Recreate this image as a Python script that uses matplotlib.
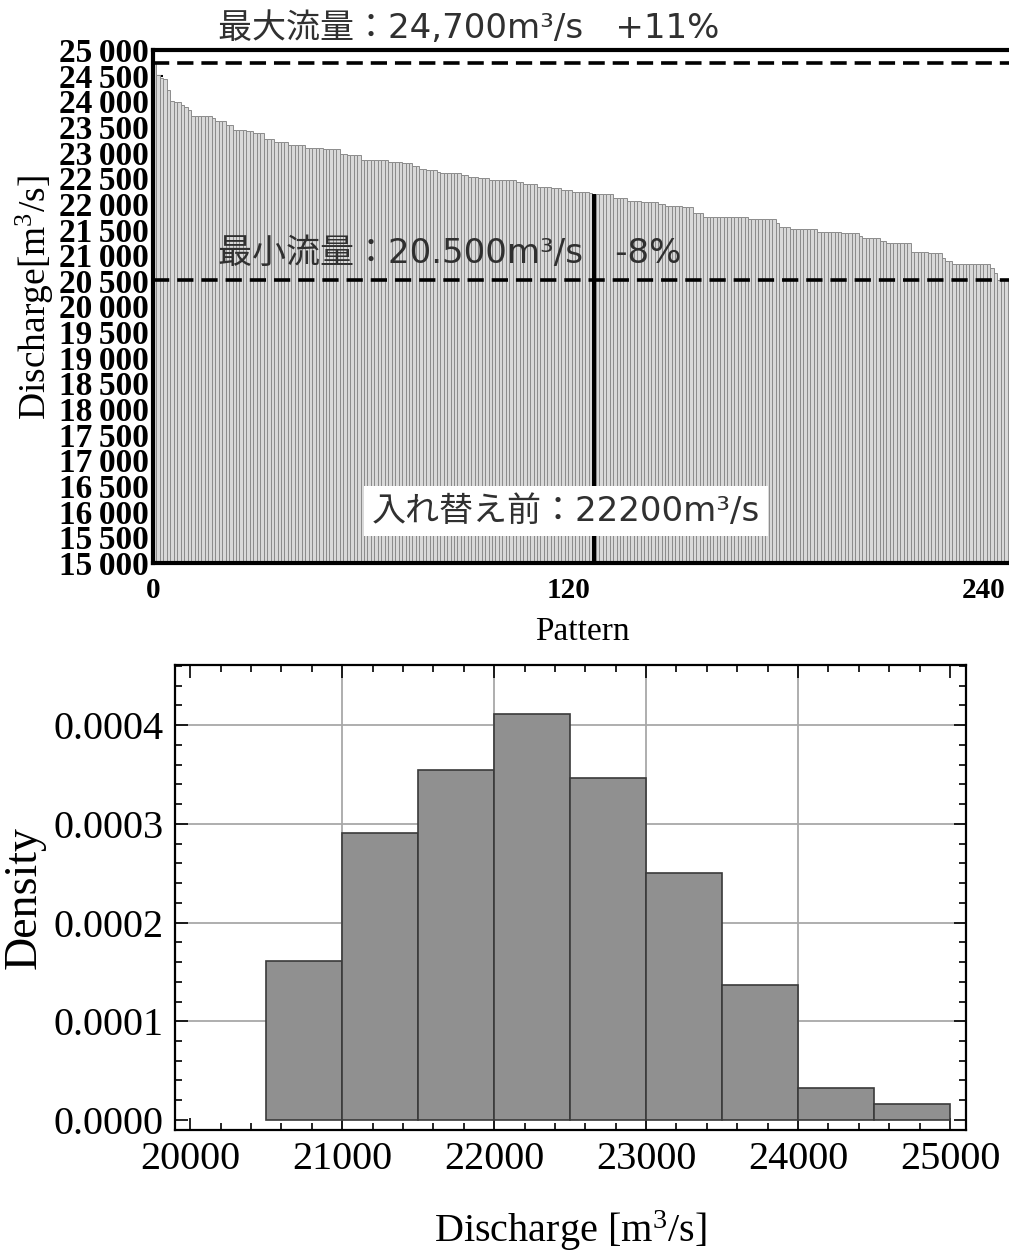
import numpy as np
import matplotlib
matplotlib.use("Agg")
import matplotlib.pyplot as plt
from matplotlib.ticker import MultipleLocator, FuncFormatter

plt.rcParams['mathtext.fontset'] = 'custom'
plt.rcParams['mathtext.rm'] = 'Liberation Serif'
plt.rcParams['mathtext.it'] = 'Liberation Serif:italic'
plt.rcParams['mathtext.bf'] = 'Liberation Serif:bold'

# ---- data ----
discharge = [
    24750, 24520, 24460, 24440, 24220, 24010, 23985, 23980, 23920, 23890,
    23830, 23715, 23715, 23715, 23715, 23715, 23715, 23670, 23620, 23620,
    23620, 23540, 23540, 23440, 23440, 23440, 23440, 23420, 23420, 23375,
    23375, 23375, 23260, 23260, 23260, 23215, 23215, 23215, 23215, 23150,
    23150, 23150, 23150, 23150, 23095, 23095, 23095, 23095, 23095, 23065,
    23065, 23065, 23065, 23065, 22975, 22975, 22950, 22950, 22950, 22950,
    22860, 22860, 22860, 22860, 22860, 22860, 22860, 22860, 22825, 22825,
    22825, 22825, 22790, 22790, 22790, 22740, 22740, 22690, 22690, 22660,
    22660, 22660, 22630, 22610, 22610, 22610, 22610, 22610, 22610, 22560,
    22560, 22530, 22530, 22530, 22505, 22505, 22505, 22465, 22465, 22465,
    22465, 22465, 22465, 22465, 22465, 22420, 22420, 22380, 22380, 22380,
    22380, 22335, 22335, 22335, 22335, 22305, 22305, 22305, 22270, 22270,
    22270, 22240, 22240, 22240, 22240, 22240, 22220, 22200, 22190, 22190,
    22190, 22190, 22190, 22110, 22110, 22110, 22110, 22065, 22065, 22065,
    22065, 22030, 22030, 22030, 22030, 22030, 22005, 22005, 21960, 21960,
    21960, 21960, 21960, 21935, 21935, 21935, 21815, 21815, 21815, 21750,
    21750, 21750, 21750, 21750, 21750, 21750, 21750, 21750, 21750, 21750,
    21750, 21750, 21700, 21700, 21700, 21700, 21700, 21700, 21700, 21700,
    21620, 21555, 21555, 21555, 21510, 21510, 21510, 21510, 21510, 21510,
    21510, 21510, 21460, 21460, 21460, 21460, 21460, 21460, 21460, 21440,
    21440, 21440, 21440, 21440, 21380, 21330, 21330, 21330, 21330, 21330,
    21280, 21280, 21230, 21230, 21230, 21230, 21230, 21230, 21230, 21070,
    21070, 21070, 21070, 21070, 21040, 21040, 21040, 21040, 20940, 20895,
    20895, 20825, 20825, 20825, 20825, 20825, 20825, 20825, 20825, 20825,
    20825, 20825, 20745, 20645, 20520, 20520, 20520, 20520,
]
highlight_pattern = 128          # pattern marked before swapping (22200 m3/s)
y_ticks_top = list(range(15000, 25001, 500))
x_ticks_top = [0, 120, 240]
hist_bins = list(range(20500, 25001, 500))
hist_xticks = [20000, 21000, 22000, 23000, 24000, 25000]
hist_yticks = [0.0000, 0.0001, 0.0002, 0.0003, 0.0004]
grid_x = [21000, 22000, 23000, 24000]
grid_y = [0.0001, 0.0002, 0.0003, 0.0004]

label_max = "最大流量：24,700m³/s   +11%"
label_min = "最小流量：20.500m³/s   -8%"
label_before = "入れ替え前：22200m³/s"

values = np.array(discharge, dtype=float)
patterns = np.arange(1, len(values) + 1)

W, H = 1009, 1254
fig = plt.figure(figsize=(W / 100, H / 100), dpi=100)

serif = 'Liberation Serif'
jp = ['DejaVu Sans', 'Noto Sans CJK JP']

# ---------------- top chart ----------------
ax1 = fig.add_axes([153 / W, 1 - 563 / H, (1012 - 153) / W, 513 / H])
colors = ['black' if p == highlight_pattern else '#d9d9d9' for p in patterns]
edges = ['black' if p == highlight_pattern else '#8c8c8c' for p in patterns]
ax1.bar(patterns - 0.5, values, width=1.0, color=colors, edgecolor=edges,
        linewidth=0.7, zorder=2)
ax1.set_xlim(0, 248.3)
ax1.set_ylim(15000, 25000)
ax1.axhline(values.max(), color='black', lw=2.6, ls=(0, (4.5, 2.2)), zorder=4)
ax1.axhline(values.min(), color='black', lw=2.6, ls=(0, (4.5, 2.2)), zorder=4)

for s in ['top', 'left', 'bottom']:
    ax1.spines[s].set_linewidth(3)
    ax1.spines[s].set_color('black')
    ax1.spines[s].set_zorder(5)
ax1.spines['right'].set_visible(False)

ax1.set_yticks(y_ticks_top)
ax1.yaxis.set_major_formatter(FuncFormatter(
    lambda v, p: f"{int(v) // 1000}\u2009{int(v) % 1000:03d}"))
ax1.set_xticks(x_ticks_top)
ax1.xaxis.set_minor_locator(MultipleLocator(12))
ax1.tick_params(axis='y', direction='in', length=7, width=1.5, pad=3,
                labelsize=24)
ax1.tick_params(axis='x', which='both', direction='in', length=5, width=1.5,
                pad=10, labelsize=21)
for lab in ax1.get_yticklabels() + ax1.get_xticklabels():
    lab.set_fontfamily(serif)
    lab.set_fontweight('bold')

ax1.set_ylabel("Discharge[m$^3$/s]", fontfamily=serif, fontsize=27)
ax1.yaxis.set_label_coords(-0.113, 0.518)
ax1.set_xlabel("Pattern", fontfamily=serif, fontsize=24, labelpad=9)

txt_kw = dict(family=jp, fontsize=24.5, color='#303030', va='center', zorder=10)
fig.text(218 / W, 1 - 28 / H, label_max, ha='left', **txt_kw)
fig.text(218 / W, 1 - 253 / H, label_min, ha='left', **txt_kw)
fig.text(566 / W, 1 - 511 / H, label_before, ha='center',
         bbox=dict(facecolor='white', edgecolor='none', pad=6), **txt_kw)

# ---------------- histogram ----------------
ax2 = fig.add_axes([175 / W, 1 - 1130 / H, 791 / W, 465 / H])
for g in grid_x:
    ax2.axvline(g, color='#a8a8a8', lw=1.3, zorder=0.5)
for g in grid_y:
    ax2.axhline(g, color='#a8a8a8', lw=1.3, zorder=0.5)
ax2.hist(values, bins=hist_bins, density=True, color='#909090',
         edgecolor='#3a3a3a', linewidth=1.2, zorder=2)
ax2.set_xlim(19900, 25105)
ax2.set_ylim(-0.0000102, 0.000461)
ax2.set_xticks(hist_xticks)
ax2.set_yticks(hist_yticks)
ax2.xaxis.set_minor_locator(MultipleLocator(200))
ax2.yaxis.set_minor_locator(MultipleLocator(0.00002))
ax2.yaxis.set_major_formatter(FuncFormatter(lambda v, p: f"{v:.4f}"))
ax2.tick_params(which='both', direction='in', top=True, right=True, width=1.2)
ax2.tick_params(which='major', length=9, labelsize=29, pad=8)
ax2.tick_params(which='minor', length=5)
for lab in ax2.get_yticklabels() + ax2.get_xticklabels():
    lab.set_fontfamily(serif)
for s in ax2.spines.values():
    s.set_linewidth(1.6)
    s.set_zorder(5)
ax2.set_ylabel("Density", fontfamily=serif, fontsize=33, labelpad=6)
ax2.set_xlabel("Discharge [m$^3$/s]", fontfamily=serif, fontsize=29, labelpad=22)

fig.savefig("out.png", dpi=100)
